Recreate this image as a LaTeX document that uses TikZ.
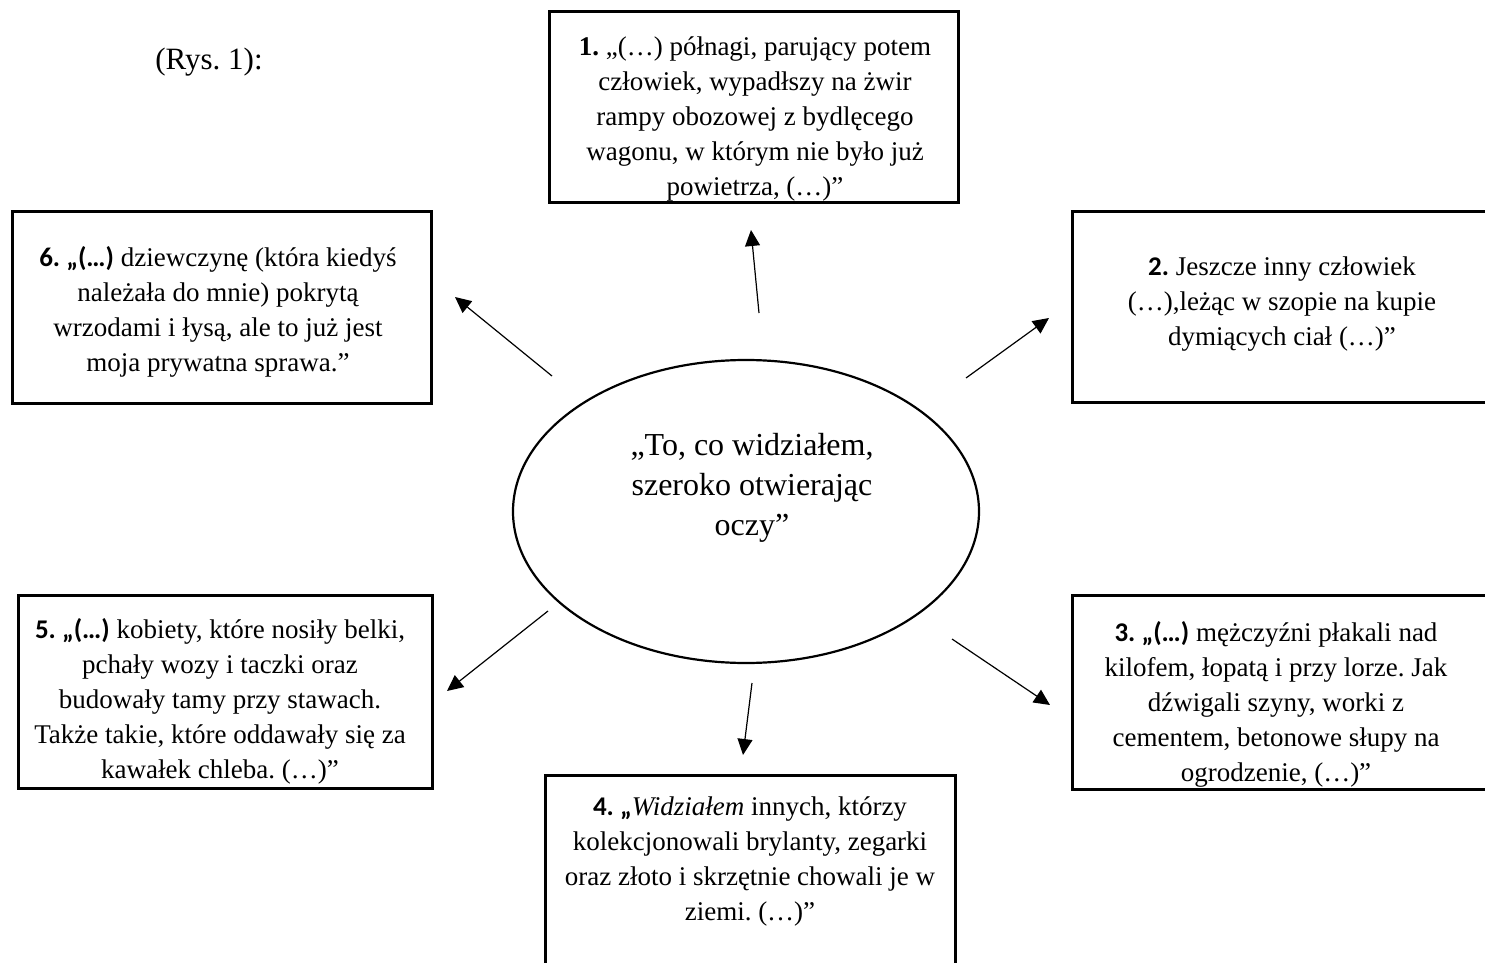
\documentclass[tikz,border=0pt]{standalone}
\usepackage{fontspec}
\setmainfont{Liberation Serif}
\newfontfamily\calib{Carlito}
\usetikzlibrary{shapes.geometric,arrows.meta}
\newcommand{\nbx}[1]{{\calib\bfseries #1}}
\newcommand{\fl}{\rule{0pt}{12pt}}
\frenchspacing
\begin{document}
\begin{tikzpicture}[x=0.5pt,y=-0.5pt,
  boxst/.style={draw, line width=1.5pt, rectangle, inner sep=0pt},
  txt/.style={anchor=north, align=center, inner sep=0pt, font=\fontsize{13.5pt}{17.5pt}\selectfont},
  arr/.style={line width=0.6pt, -{Triangle[length=8pt,width=7.5pt]}}]
\useasboundingbox (0,0) rectangle (1485,963);

\node[anchor=base west, inner sep=0pt, font=\fontsize{15.5pt}{18pt}\selectfont] (rys) at (155,70) {(Rys. 1):};

% boxes
\node[boxst, minimum width=204.5pt, minimum height=95.5pt] (b1) at (753.5,107.5) {};
\node[boxst, minimum width=211.5pt, minimum height=95pt] (b2) at (1283.5,307) {};
\node[boxst, minimum width=211.5pt, minimum height=97pt] (b3) at (1283.5,692) {};
\node[boxst, minimum width=205pt, minimum height=100pt] (b4) at (750,875) {};
\node[boxst, minimum width=207pt, minimum height=96.5pt] (b5) at (225,691.5) {};
\node[boxst, minimum width=209.5pt, minimum height=95.5pt] (b6) at (221.5,307.5) {};

% ellipse
\node[draw, ellipse, line width=1.1pt, minimum width=233pt, minimum height=151.5pt, inner sep=0pt] (c) at (746,511.5) {};
\node[anchor=north, align=center, inner sep=0pt, font=\fontsize{16pt}{20pt}\selectfont] (ct) at (752,431)
  {\fl„To, co widziałem,\\ szeroko otwierając\\ oczy”};

% texts
\node[txt] (t1) at (755,31) {\fl\textbf{1.} „(…) półnagi, parujący potem\\ człowiek, wypadłszy na żwir\\ rampy obozowej z bydlęcego\\ wagonu, w którym nie było już\\ powietrza, (…)”};
\node[txt] (t2) at (1282,251) {\fl\nbx{2.} Jeszcze inny człowiek\\ (…),leżąc w szopie na kupie\\ dymiących ciał (…)”};
\node[txt] (t3) at (1276,617) {\fl\nbx{3. „(…)} mężczyźni płakali nad\\ kilofem, łopatą i przy lorze. Jak\\ dźwigali szyny, worki z\\ cementem, betonowe słupy na\\ ogrodzenie, (…)”};
\node[txt] (t4) at (750,791) {\fl\nbx{4. „}\textit{Widziałem} innych, którzy\\ kolekcjonowali brylanty, zegarki\\ oraz złoto i skrzętnie chowali je w\\ ziemi. (…)”};
\node[txt] (t5) at (220,614) {\fl\nbx{5. „(…)} kobiety, które nosiły belki,\\ pchały wozy i taczki oraz\\ budowały tamy przy stawach.\\ Także takie, które oddawały się za\\ kawałek chleba. (…)”};
\node[txt] (t6) at (218,242) {\fl\nbx{6. „(…)} dziewczynę (która kiedyś\\ należała do mnie) pokrytą\\ wrzodami i łysą, ale to już jest\\ moja prywatna sprawa.”};

% arrow end points
\coordinate (a1s) at (759,313); \coordinate (a1e) at (751,230);
\coordinate (a2s) at (966,378); \coordinate (a2e) at (1049,318);
\coordinate (a3s) at (952,639); \coordinate (a3e) at (1050,705);
\coordinate (a4s) at (752,683); \coordinate (a4e) at (743,755);
\coordinate (a5s) at (548,611); \coordinate (a5e) at (447,691);
\coordinate (a6s) at (552,376); \coordinate (a6e) at (455,297);

\draw[arr] (a1s) -- (a1e);
\draw[arr] (a2s) -- (a2e);
\draw[arr] (a3s) -- (a3e);
\draw[arr] (a4s) -- (a4e);
\draw[arr] (a5s) -- (a5e);
\draw[arr] (a6s) -- (a6e);
\end{tikzpicture}
\end{document}
